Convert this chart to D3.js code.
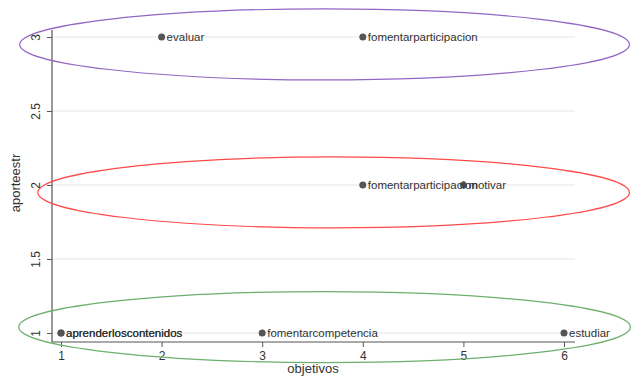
<!DOCTYPE html>
<html><head><meta charset="utf-8">
<script src="https://cdn.jsdelivr.net/npm/d3@7"></script>
<style>body{margin:0;background:#fff;} svg{display:block;}</style>
</head><body>
<svg id="c" width="631" height="376"></svg>
<script>
const xValues = [2, 4, 4, 5, 1, 1, 3, 6];
const yValues = [3, 3, 2, 2, 1, 1, 1, 1];
const labels = ["evaluar","fomentarparticipacion","fomentarparticipacion","motivar","aprenderloscontenidos","aprenderloscontenidos","fomentarcompetencia","estudiar"];
const xTicks = [1, 2, 3, 4, 5, 6];
const yTicks = [1, 1.5, 2, 2.5, 3];
const yTickLabels = ["1", "1.5", "2", "2.5", "3"];
// ellipses in data units: center x, center y, radius x, radius y
const ellipseCx = [3.62, 3.71, 3.62];
const ellipseCy = [2.95, 1.95, 1.04];
const ellipseRx = [3.03, 2.94, 3.04];
const ellipseRy = [0.24, 0.24, 0.24];
const ellipseColors = ["#9366c4", "#ff4a4a", "#6cb06c"];

const svg = d3.select("#c");
const x = d3.scaleLinear().domain([1, 6]).range([61, 564]);
const y = d3.scaleLinear().domain([1, 3]).range([333, 37]);

// gridlines
svg.append("g").selectAll("line").data(yTicks).join("line")
  .attr("x1", 52).attr("x2", 575)
  .attr("y1", d => y(d)).attr("y2", d => y(d))
  .attr("stroke", "#e6e6e6").attr("stroke-width", 1.2);

// axes
const yAxis = d3.axisLeft(y).tickValues(yTicks).tickFormat((d,i) => yTickLabels[i]).tickSize(5).tickSizeOuter(0);
const gy = svg.append("g").attr("transform", "translate(52,0)").call(yAxis);
gy.select(".domain").attr("d", "M0,30V342").attr("stroke", "#555").attr("stroke-width", 1.2);
gy.selectAll(".tick line").attr("stroke", "#555");
gy.selectAll(".tick text")
  .attr("transform", "rotate(-90)")
  .attr("x", 0).attr("y", -12).attr("dy", 0)
  .attr("text-anchor", "middle")
  .attr("font-family", "Liberation Sans, Arial, sans-serif").attr("font-size", 12).attr("fill", "#333");

const xAxis = d3.axisBottom(x).tickValues(xTicks).tickFormat(d3.format("d")).tickSize(5).tickSizeOuter(0);
const gx = svg.append("g").attr("transform", "translate(0,342)").call(xAxis);
gx.select(".domain").attr("d", "M52,0H575").attr("stroke", "#555").attr("stroke-width", 1.2);
gx.selectAll(".tick line").attr("stroke", "#555");
gx.selectAll(".tick text").attr("y", 9)
  .attr("font-family", "Liberation Sans, Arial, sans-serif").attr("font-size", 12).attr("fill", "#333");

// axis titles
svg.append("text").attr("x", 313).attr("y", 373).attr("text-anchor", "middle")
  .attr("font-family", "Liberation Sans, Arial, sans-serif").attr("font-size", 13).attr("fill", "#333")
  .text("objetivos");
svg.append("text").attr("transform", "translate(20,183) rotate(-90)").attr("text-anchor", "middle")
  .attr("font-family", "Liberation Sans, Arial, sans-serif").attr("font-size", 13).attr("fill", "#333")
  .text("aporteestr");

// points + labels
const pts = xValues.map((v, i) => ({x: v, y: yValues[i], label: labels[i]}));
svg.append("g").selectAll("circle").data(pts).join("circle")
  .attr("cx", d => x(d.x)).attr("cy", d => y(d.y)).attr("r", 3.5).attr("fill", "#555");
svg.append("g").selectAll("text").data(pts).join("text")
  .attr("x", d => x(d.x) + 5).attr("y", d => y(d.y) + 4)
  .attr("font-family", "Liberation Sans, Arial, sans-serif").attr("font-size", 11.5).attr("fill", "#333")
  .text(d => d.label);

// ellipses
svg.append("g").selectAll("ellipse").data(ellipseCx).join("ellipse")
  .attr("cx", (d) => x(d))
  .attr("cy", (d, i) => y(ellipseCy[i]))
  .attr("rx", (d, i) => x(1 + ellipseRx[i]) - x(1))
  .attr("ry", (d, i) => y(1) - y(1 + ellipseRy[i]))
  .attr("fill", "none").attr("stroke", (d, i) => ellipseColors[i]).attr("stroke-width", 1.2);
</script>
</body></html>
